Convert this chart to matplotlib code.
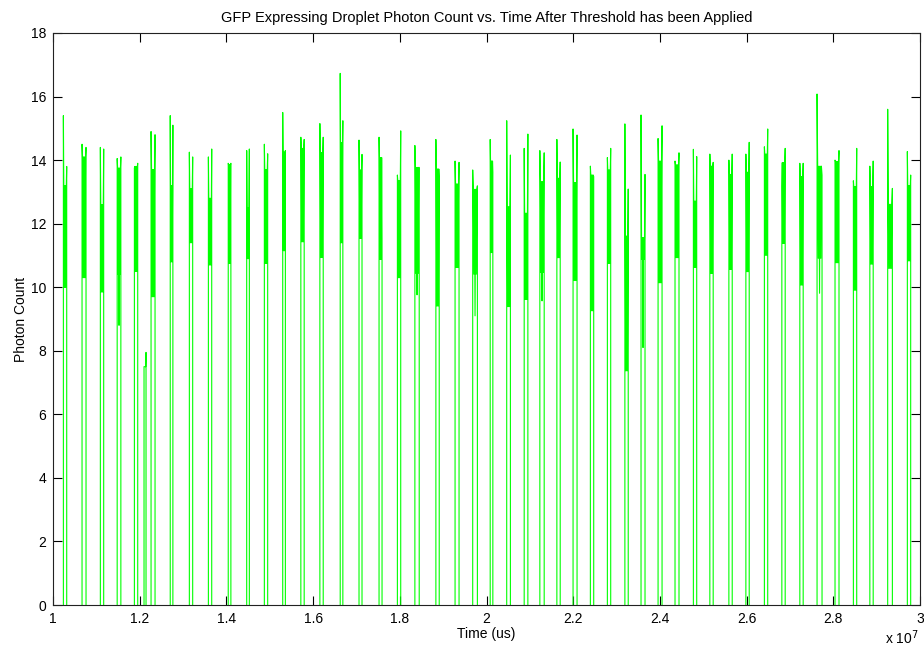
"""
GFP expressing droplet photon count vs time, after threshold
"""

import numpy as np
import matplotlib
matplotlib.use("Agg")
import matplotlib.pyplot as plt

plt.rcParams['font.family'] = ['Liberation Sans', 'DejaVu Sans']

# droplet centre times (units of 1e7 us) and durations
cluster_time = [1.0277, 1.0715, 1.1130, 1.1522, 1.1915, 1.2122, 1.2307, 1.2734, 1.3183, 1.3622,
                1.4072, 1.4498, 1.4913, 1.5329, 1.5755, 1.6194, 1.6655, 1.7093, 1.7555, 1.7982,
                1.8397, 1.8870, 1.9320, 1.9735, 2.0115, 2.0508, 2.0911, 2.1280, 2.1661, 2.2042,
                2.2434, 2.2826, 2.3230, 2.3610, 2.4003, 2.4394, 2.4810, 2.5190, 2.5629, 2.6021,
                2.6448, 2.6851, 2.7266, 2.7682, 2.8085, 2.8501, 2.8881, 2.9308, 2.9746]
cluster_span = [0.0077, 0.0092, 0.0077, 0.0085, 0.0077, 0.0046, 0.0092, 0.0061, 0.0077, 0.0077,
                0.0061, 0.0061, 0.0077, 0.0061, 0.0077, 0.0077, 0.0061, 0.0069, 0.0069, 0.0077,
                0.0100, 0.0077, 0.0092, 0.0108, 0.0061, 0.0085, 0.0085, 0.0100, 0.0077, 0.0092,
                0.0077, 0.0077, 0.0077, 0.0092, 0.0092, 0.0092, 0.0077, 0.0077, 0.0077, 0.0077,
                0.0077, 0.0077, 0.0077, 0.0115, 0.0092, 0.0077, 0.0077, 0.0108, 0.0077]

# photon counts read per droplet: leading spike, trailing spike, band top/bottom, lowest dip
peak_left = [15.4, 14.5, 14.4, 14.05, 13.75, 7.5, 14.9, 15.4, 14.25, 14.1,
             13.9, 14.3, 14.5, 15.5, 14.72, 15.15, 16.73, 14.63, 14.72, 13.53,
             14.46, 14.65, 13.97, 13.69, 14.65, 15.24, 14.37, 14.3, 14.65, 14.98,
             13.81, 14.08, 15.14, 15.42, 14.68, 13.97, 14.34, 14.19, 14.0, 14.19,
             14.42, 13.16, 13.9, 16.08, 14.0, 13.35, 13.81, 15.6, 14.27]
peak_right = [13.8, 14.4, 14.35, 14.1, 13.9, 7.95, 14.8, 15.1, 14.1, 14.35,
              13.9, 14.35, 14.2, 14.3, 14.65, 14.72, 15.24, 14.18, 11.52, 14.92,
              13.77, 13.43, 13.93, 13.19, 13.62, 14.16, 14.82, 14.23, 13.94, 14.79,
              13.48, 14.37, 13.09, 13.55, 15.08, 14.23, 14.11, 13.93, 14.19, 14.56,
              14.98, 14.37, 13.9, 13.53, 14.3, 14.37, 13.97, 13.11, 13.53]
band_high = [13.2, 14.1, 12.6, 13.75, 13.8, 7.5, 13.7, 13.2, 13.1, 12.8,
             13.85, 12.5, 13.7, 14.25, 14.37, 14.23, 14.55, 13.69, 14.08, 13.35,
             13.77, 13.72, 13.25, 13.08, 13.97, 12.53, 12.33, 13.32, 13.43, 13.29,
             13.53, 13.69, 11.61, 11.56, 13.97, 13.85, 12.71, 13.81, 13.55, 13.62,
             14.19, 13.92, 13.48, 13.81, 13.95, 13.16, 13.16, 12.61, 13.19]
band_low = [10.0, 10.3, 9.85, 10.4, 10.5, 7.5, 9.7, 10.8, 11.4, 10.7,
            10.75, 10.9, 10.75, 11.15, 11.43, 10.94, 11.4, 11.54, 10.88, 10.3,
            10.44, 9.41, 10.62, 10.41, 11.09, 9.39, 9.62, 10.47, 10.93, 10.21,
            9.26, 10.75, 7.37, 10.88, 10.14, 10.93, 10.63, 10.44, 10.56, 10.49,
            11.01, 11.38, 10.07, 10.91, 10.77, 9.91, 10.73, 10.59, 10.83]
band_dip = [10.0, 10.3, 9.85, 8.8, 10.5, 7.5, 9.7, 10.8, 11.4, 10.7,
            10.75, 10.9, 10.75, 11.15, 11.43, 10.94, 11.4, 11.54, 10.88, 10.3,
            9.76, 9.41, 10.62, 9.1, 11.09, 9.39, 9.62, 9.57, 10.93, 10.21,
            9.26, 10.75, 7.37, 8.1, 10.14, 10.93, 10.63, 10.44, 10.56, 10.49,
            11.01, 11.38, 10.07, 9.81, 10.77, 9.91, 10.73, 10.59, 10.83]

xtick_vals = [1.0, 1.2, 1.4, 1.6, 1.8, 2.0, 2.2, 2.4, 2.6, 2.8, 3.0]
xtick_labels = ['1', '1.2', '1.4', '1.6', '1.8', '2', '2.2', '2.4', '2.6', '2.8', '3']
ytick_vals = [0, 2, 4, 6, 8, 10, 12, 14, 16, 18]

# build the thresholded trace: zero between droplets
t_all, y_all = [], []
for i in range(len(cluster_time)):
    x0 = (cluster_time[i] - cluster_span[i] / 2) * 1e7
    x1 = (cluster_time[i] + cluster_span[i] / 2) * 1e7
    ys = [0, peak_left[i], band_high[i], band_low[i], band_high[i], band_dip[i],
          band_high[i], band_low[i], band_high[i], peak_right[i], 0]
    xs = [x0] + list(np.linspace(x0, x1, len(ys) - 2)) + [x1]
    t_all += [np.nan] + xs
    y_all += [np.nan] + ys

fig = plt.figure(figsize=(9.24, 6.47), dpi=100)
ax = fig.add_axes([0.0574, 0.0649, 0.9383, 0.8841])
ax.plot(t_all, y_all, color='#00ff00', linewidth=0.8)

ax.set_xlim(1e7, 3e7)
ax.set_ylim(0, 18)
ax.set_xticks([v * 1e7 for v in xtick_vals])
ax.set_xticklabels(xtick_labels)
ax.set_yticks(ytick_vals)
ax.tick_params(direction='in', length=6.5, width=0.8, top=True, right=True, labelsize=10, pad=5)
for s in ax.spines.values():
    s.set_linewidth(0.8)
    s.set_color('#222222')

ax.set_title("GFP Expressing Droplet Photon Count vs. Time After Threshold has been Applied",
             fontsize=10.5, pad=8)
ax.set_xlabel("Time (us)", fontsize=10, labelpad=1)
ax.set_ylabel("Photon Count", fontsize=10, labelpad=2)
fig.text(0.994, 0.004, r'x 10$^7$', ha='right', va='baseline', fontsize=10)

fig.savefig("out.png", dpi=100)
